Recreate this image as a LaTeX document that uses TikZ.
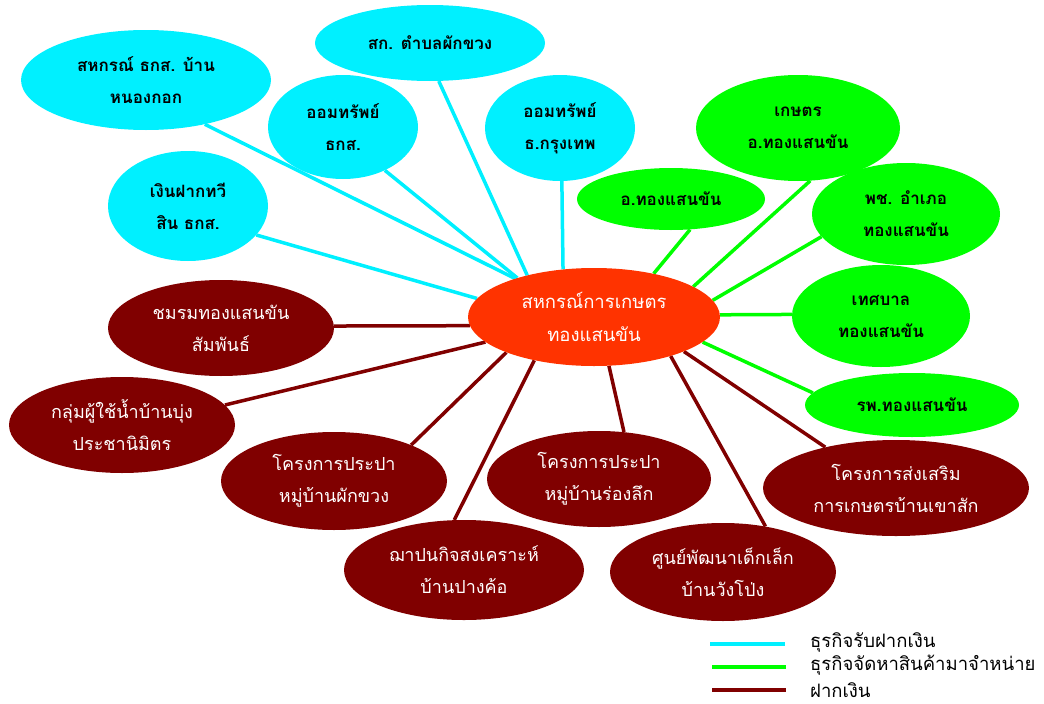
\documentclass[tikz,border=0pt]{standalone}
\usepackage{fontspec}
\newfontfamily\thaifont[Script=Thai]{Loma}
\usepackage{tikz}
\usetikzlibrary{shapes.geometric}
\usetikzlibrary{backgrounds}
\definecolor{DepCyan}{HTML}{00F0FF}
\definecolor{SupGreen}{HTML}{00FF00}
\definecolor{SavRed}{HTML}{800000}
\definecolor{HubRed}{HTML}{FF3300}

\begin{document}
\begin{tikzpicture}[
  x = 1pt, y = -1pt,
  bubble/.style = {ellipse, draw = none, align = center,
      inner xsep = -25pt, inner ysep = -8pt,
      font = \thaifont\fontsize{18}{32}\selectfont},
  dims/.style args = {#1/#2}{minimum width = #1pt, minimum height = #2pt},
  deposit/.style = {bubble, fill = DepCyan, font = \thaifont\bfseries\fontsize{17}{32}\selectfont},
  supply/.style = {bubble, fill = SupGreen, font = \thaifont\bfseries\fontsize{17}{32}\selectfont},
  saving/.style = {bubble, fill = SavRed, text = white},
  hub/.style = {bubble, fill = HubRed, text = white, font = \thaifont\fontsize{18.5}{33}\selectfont},
  legend/.style = {anchor = west, inner sep = 0pt, font = \thaifont\fontsize{18.5}{20}\selectfont},
  depline/.style = {line width = 3.5pt, draw = DepCyan},
  supline/.style = {line width = 3.5pt, draw = SupGreen},
  savline/.style = {line width = 3.5pt, draw = SavRed}
]
  \useasboundingbox (0, 0) rectangle (1044, 704);

  \node[hub, dims = 252/98] (coop) at (594, 317) {สหกรณ์การเกษตร\\ทองแสนขัน};

  % ธุรกิจรับฝากเงิน
  \node[deposit, dims = 250/100] (coopbaac) at (146, 80) {สหกรณ์ ธกส. บ้าน\\หนองกอก};
  \node[deposit, dims = 230/76] (phakkhuang) at (430, 43) {สก. ตำบลผักขวง};
  \node[deposit, dims = 150/104] (savebaac) at (343, 127) {ออมทรัพย์\\ธกส.};
  \node[deposit, dims = 150/106] (savebbl) at (560, 128) {ออมทรัพย์\\ธ.กรุงเทพ};
  \node[deposit, dims = 160/110] (thawee) at (188, 206) {เงินฝากทวี\\สิน ธกส.};

  % ธุรกิจจัดหาสินค้า
  \node[supply, dims = 204/106] (agri) at (798, 128) {เกษตร\\อ.ทองแสนขัน};
  \node[supply, dims = 188/62] (district) at (671, 199) {อ.ทองแสนขัน};
  \node[supply, dims = 188/102] (cdd) at (906, 214) {พช. อำเภอ\\ทองแสนขัน};
  \node[supply, dims = 178/102] (municip) at (881, 316) {เทศบาล\\ทองแสนขัน};
  \node[supply, dims = 214/64] (hospital) at (912, 405) {รพ.ทองแสนขัน};

  % ฝากเงิน
  \node[saving, dims = 226/96] (club) at (221, 328) {ชมรมทองแสนขัน\\สัมพันธ์};
  \node[saving, dims = 226/96] (water) at (122, 425) {กลุ่มผู้ใช้น้ำบ้านบุ่ง\\ประชานิมิตร};
  \node[saving, dims = 226/98] (tapphak) at (334, 481) {โครงการประปา\\หมู่บ้านผักขวง};
  \node[saving, dims = 224/96] (taprong) at (599, 479) {โครงการประปา\\หมู่บ้านร่องลึก};
  \node[saving, dims = 240/100] (funeral) at (464, 570) {ฌาปนกิจสงเคราะห์\\บ้านปางค้อ};
  \node[saving, dims = 226/98] (nursery) at (723, 572) {ศูนย์พัฒนาเด็กเล็ก\\บ้านวังโป่ง};
  \node[saving, dims = 266/96] (farmproj) at (896, 488) {โครงการส่งเสริม\\การเกษตรบ้านเขาสัก};

  \begin{scope}[on background layer]
    \foreach \a/\n/\b in {154/coopbaac/-37, 148/phakkhuang/-77, 153/savebaac/-46,
                          123/savebbl/-88, 171/thawee/-23}
      \draw[depline] (coop.\a) -- (\n.\b);
    \foreach \a/\n/\b in {36/district/-58, 17/agri/-77, 8/cdd/-165,
                          1/municip/179, -13/hospital/173}
      \draw[supline] (coop.\a) -- (\n.\b);
    \foreach \a/\n/\b in {-176/club/1, -167/water/11, -158/tapphak/25, -144/funeral/101,
                          -73/taprong/62, -27/nursery/47, -21/farmproj/150}
      \draw[savline] (coop.\a) -- (\n.\b);
  \end{scope}

  % legend
  \node[legend] (lgdep) at (810, 642) {ธุรกิจรับฝากเงิน};
  \node[legend] (lgsup) at (810, 665) {ธุรกิจจัดหาสินค้ามาจำหน่าย};
  \node[legend] (lgsav) at (810, 690) {ฝากเงิน};
  \draw[depline] ([xshift = -100pt]lgdep.west |- 0, 644) -- ([xshift = -25pt]lgdep.west |- 0, 644);
  \draw[supline] ([xshift = -98pt]lgsup.west |- 0, 667) -- ([xshift = -24pt]lgsup.west |- 0, 667);
  \draw[savline] ([xshift = -98pt]lgsav.west |- 0, 690) -- ([xshift = -24pt]lgsav.west |- 0, 690);
\end{tikzpicture}
\end{document}
